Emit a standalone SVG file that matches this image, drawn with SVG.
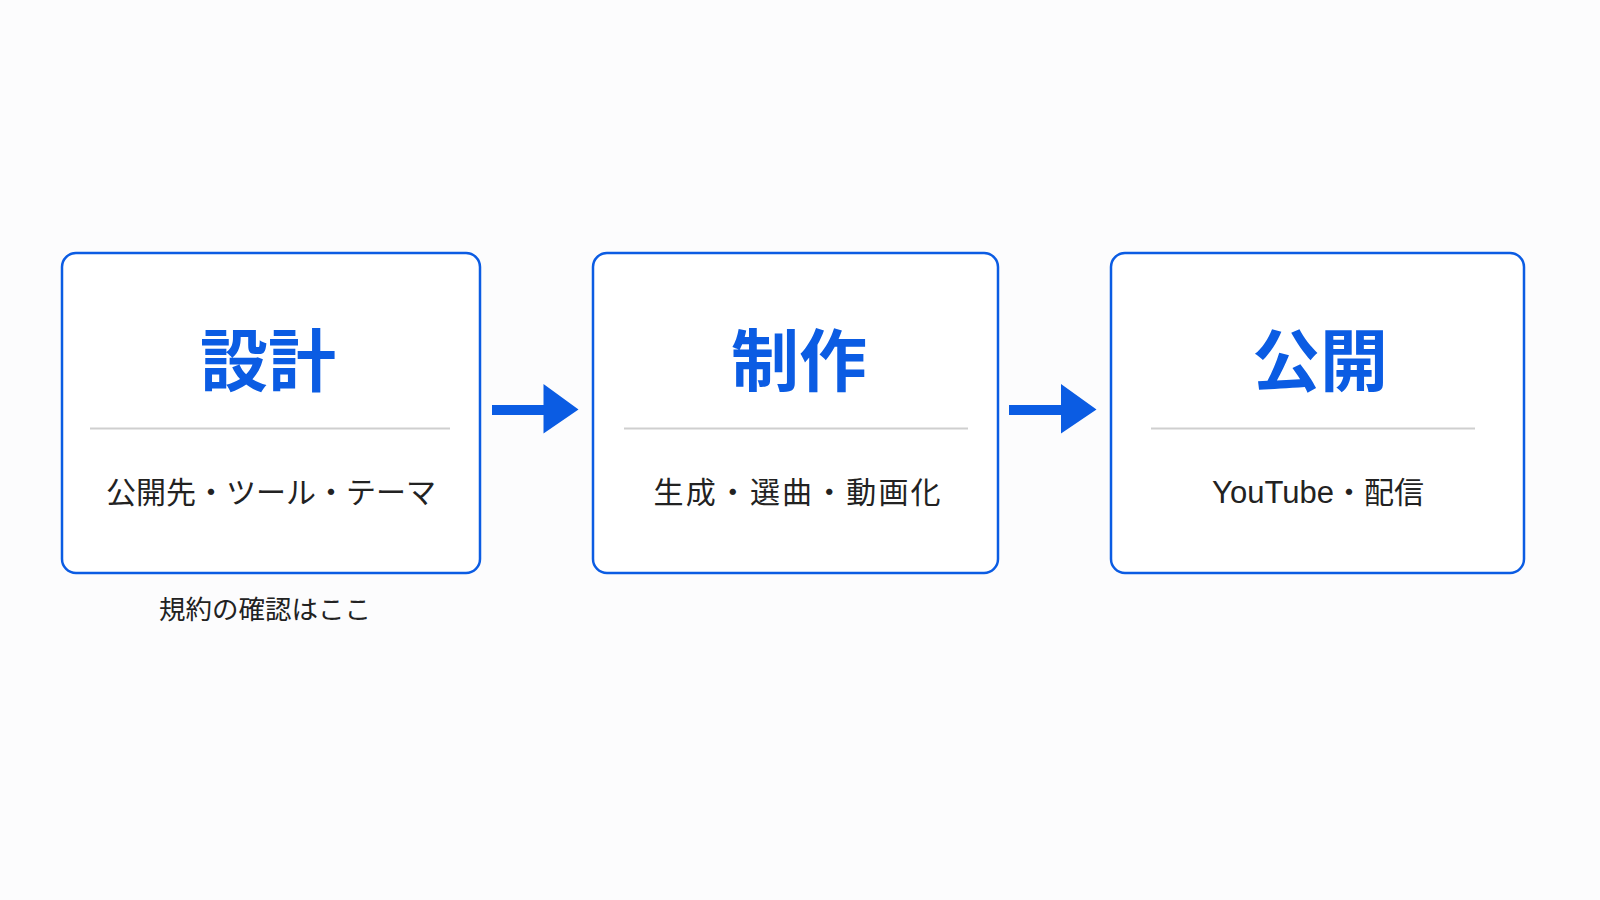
<svg xmlns="http://www.w3.org/2000/svg" width="1600" height="900" viewBox="0 0 1600 900">
<style>
.box{fill:#ffffff;stroke:#0B5CE3;stroke-width:2.5}
.div{stroke:#cfcfcf;stroke-width:2}
.title{font-family:"Noto Sans CJK JP","Noto Sans",sans-serif;font-weight:700;font-size:68px;fill:#0B5CE3;text-anchor:middle}
.sub{font-family:"Noto Sans CJK JP","Noto Sans",sans-serif;font-weight:400;font-size:30px;fill:#222222;text-anchor:middle}
.latin{font-family:"Liberation Sans","Noto Sans CJK JP",sans-serif;font-size:31px}
.cap{font-family:"Noto Sans CJK JP","Noto Sans",sans-serif;font-weight:400;font-size:26.5px;fill:#222222;text-anchor:middle}
.arrow{fill:#0B5CE3}
</style>
<rect width="1600" height="900" fill="#fcfcfd"/>
<g id="node-design">
<rect class="box" x="62" y="253" width="418" height="320" rx="14"/>
<text class="title" x="268" y="386">設計</text>
<line class="div" x1="90" y1="428.5" x2="450" y2="428.5"/>
<text class="sub" x="271" y="503">公開先・ツール・テーマ</text>
<text class="cap" x="265" y="619">規約の確認はここ</text>
</g>
<g id="node-production">
<rect class="box" x="593" y="253" width="405" height="320" rx="14"/>
<text class="title" x="799" y="386">制作</text>
<line class="div" x1="624" y1="428.5" x2="968" y2="428.5"/>
<text class="sub" x="797" y="503" textLength="287" lengthAdjust="spacing">生成・選曲・動画化</text>
</g>
<g id="node-publish">
<rect class="box" x="1111" y="253" width="413" height="320" rx="14"/>
<text class="title" x="1320" y="386">公開</text>
<line class="div" x1="1151" y1="428.5" x2="1475" y2="428.5"/>
<text class="sub" x="1318" y="503"><tspan class="latin">YouTube</tspan>・配信</text>
</g>
<g id="connectors">
<path class="arrow" d="M492 405 H543.5 V384 L578.5 409.5 L543.5 433.5 V415 H492 Z"/>
<path class="arrow" d="M1009 405 H1061 V384 L1096.5 409.5 L1061 433.5 V415 H1009 Z"/>
</g>
</svg>
